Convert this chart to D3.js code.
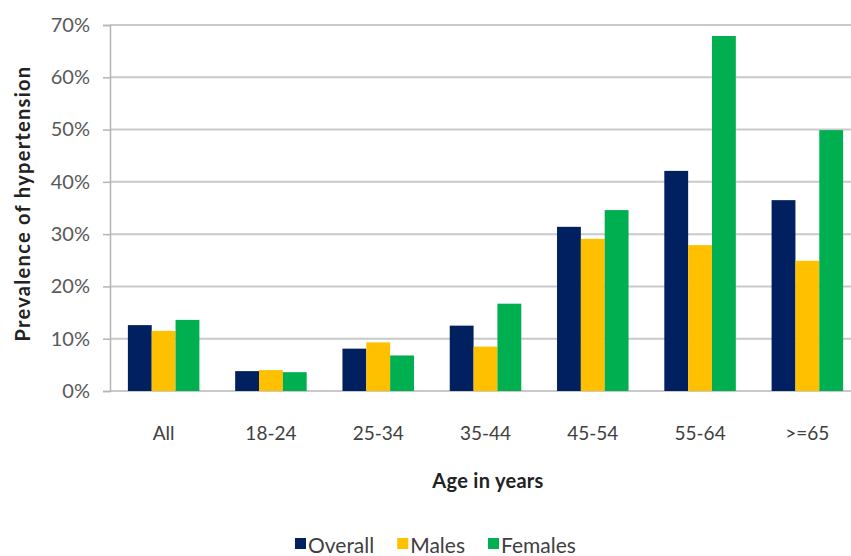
<!DOCTYPE html>
<html>
<head>
<meta charset="utf-8">
<script src="https://cdn.jsdelivr.net/npm/d3@7"></script>
<style>
  html, body { margin: 0; padding: 0; background: #fff; }
  svg { display: block; }
  text { font-family: Lato, "Open Sans", sans-serif; }
</style>
</head>
<body>
<svg id="chart" width="851" height="556"></svg>
<script>
// Prevalence of hypertension by age group (%)
const categories = ["All", "18-24", "25-34", "35-44", "45-54", "55-64", ">=65"];
const seriesNames = ["Overall", "Males", "Females"];
const overall = [12.6, 3.8, 8.1, 12.5, 31.4, 42.1, 36.5];
const males   = [11.5, 4.0, 9.3, 8.5, 29.1, 27.9, 24.9];
const females = [13.6, 3.6, 6.8, 16.7, 34.6, 67.9, 49.9];
const yTicks = [0, 10, 20, 30, 40, 50, 60, 70];
const colors = ["#002060", "#FFC000", "#00B050"];

const seriesValues = [overall, males, females];
const rows = categories.map((c, i) => ({
  category: c,
  values: seriesNames.map((s, j) => ({ key: s, value: seriesValues[j][i], color: colors[j] }))
}));

const svg = d3.select("#chart");
const plotLeft = 110, plotTop = 25, plotBottom = 391;
const plotRight = 861;

const x = d3.scaleBand().domain(categories).range([plotLeft, plotRight])
  .paddingInner(1 / 3).paddingOuter(1 / 6);
const xs = d3.scaleBand().domain(seriesNames).range([0, x.bandwidth()]);
const y = d3.scaleLinear().domain([0, 70]).range([plotBottom, plotTop]);

// gridlines
svg.append("g")
  .selectAll("line").data(yTicks).join("line")
  .attr("x1", plotLeft).attr("x2", plotRight)
  .attr("y1", d => y(d)).attr("y2", d => y(d))
  .attr("stroke", "#c9c9c9").attr("stroke-width", 2);

// y axis
const yAxis = svg.append("g")
  .attr("transform", `translate(${plotLeft},0)`)
  .call(d3.axisLeft(y).tickValues(yTicks).tickFormat(d => d + "%").tickSize(7).tickPadding(13));
yAxis.select(".domain").attr("stroke", "#b5b5b5").attr("stroke-width", 1.5);
yAxis.selectAll(".tick line").attr("stroke", "#b5b5b5").attr("stroke-width", 1.5);
yAxis.selectAll(".tick text")
  .attr("fill", "#595959").attr("font-size", 20).attr("font-family", "Lato, sans-serif");

// bars
svg.append("g")
  .selectAll("g").data(rows).join("g")
  .attr("transform", d => `translate(${x(d.category)},0)`)
  .selectAll("rect").data(d => d.values).join("rect")
  .attr("x", d => xs(d.key))
  .attr("width", xs.bandwidth())
  .attr("y", d => y(d.value))
  .attr("height", d => y(0) - y(d.value))
  .attr("fill", d => d.color);

// x axis labels
const xAxis = svg.append("g")
  .attr("transform", `translate(0,${plotBottom})`)
  .call(d3.axisBottom(x).tickSize(0).tickPadding(36));
xAxis.select(".domain").remove();
xAxis.selectAll(".tick text")
  .attr("fill", "#404040").attr("font-size", 19).attr("font-family", "Lato, sans-serif");

// axis titles
svg.append("text")
  .attr("transform", `translate(30,${(65 + 342) / 2}) rotate(-90)`)
  .attr("text-anchor", "middle")
  .attr("font-size", 20).attr("font-weight", "bold").attr("fill", "#222")
  .attr("letter-spacing", 1.3)
  .text("Prevalence of hypertension");

svg.append("text")
  .attr("x", 488).attr("y", 488)
  .attr("text-anchor", "middle")
  .attr("font-size", 20).attr("font-weight", "bold").attr("fill", "#222")
  .attr("letter-spacing", 0.3)
  .text("Age in years");

// legend
const legend = svg.append("g");
let lx = 295;
seriesNames.forEach((s, j) => {
  legend.append("rect")
    .attr("x", lx).attr("y", 538).attr("width", 11).attr("height", 11)
    .attr("fill", colors[j]);
  const t = legend.append("text")
    .attr("x", lx + 13).attr("y", 553)
    .attr("font-size", 21).attr("fill", "#404040")
    .text(s);
  lx += 13 + t.node().getComputedTextLength() + 23;
});
</script>
</body>
</html>
